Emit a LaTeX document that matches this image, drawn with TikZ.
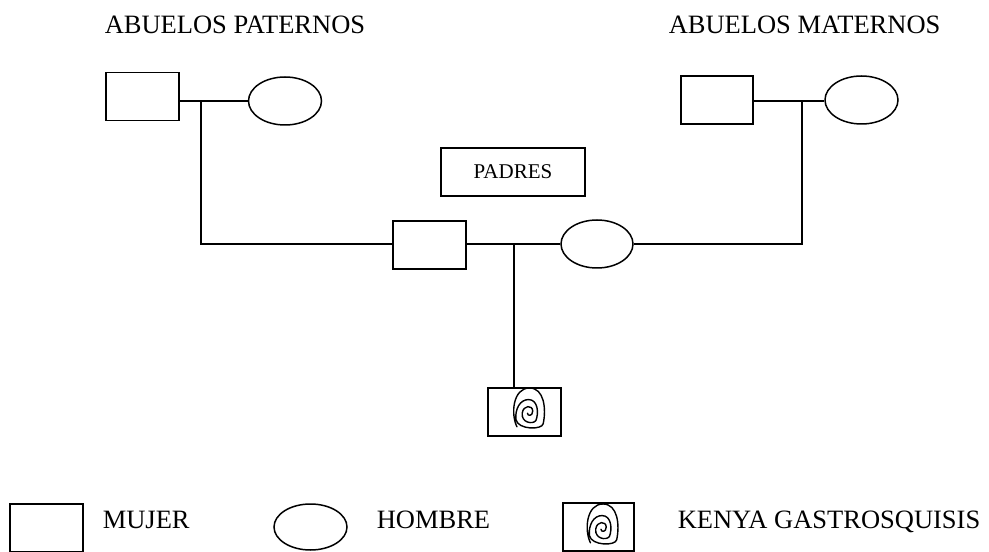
\documentclass[tikz,border=0pt]{standalone}
\usepackage{fontspec}
\setmainfont{Liberation Serif}
\usetikzlibrary{shapes.geometric}
\begin{document}
\begin{tikzpicture}[x=1bp,y=-1bp,line width=1.5bp,
  mujer/.style={draw,rectangle,inner sep=0pt,minimum width=73bp,minimum height=48bp},
  hombre/.style={draw,ellipse,inner sep=0pt,minimum width=73bp,minimum height=48bp},
  label/.style={inner sep=0pt,font=\fontsize{26.5bp}{30bp}\selectfont},
  lbl/.style={inner sep=0pt,font=\fontsize{21bp}{24bp}\selectfont},
  spiral/.pic={
    \draw[line width=1.4bp,line join=round,line cap=round,yscale=-1.05,xscale=1.05]
      (-11,-17) .. controls (-17,-5) and (-15,20) .. (1,20)
      .. controls (15,20) and (17,0) .. (14,-14)
      .. controls (13,-20) and (-10,-20) .. (-12,-10)
      .. controls (-13,0) and (-8,9) .. (0,9)
      .. controls (9,9) and (10,-4) .. (7,-11)
      .. controls (4,-15) and (-7,-13) .. (-6,-4)
      .. controls (-5,4) and (4,4) .. (4,-2)
      .. controls (4,-7) and (-1,-7) .. (-1,-4);
  }]
\useasboundingbox (0,0) rectangle (989,552);

% titles
\node[label,anchor=base west] (tpat) at (104,34) {ABUELOS PATERNOS};
\node[label,anchor=base west] (tmat) at (668,34) {ABUELOS MATERNOS};

% paternal grandparents
\node[mujer] (pm) at (142.5,96.5) {};
\node[hombre] (ph) at (285,101) {};
% maternal grandparents
\node[mujer,minimum width=72bp] (mm) at (717,100) {};
\node[hombre] (mh) at (861.5,100) {};

% parents
\node[draw,lbl,minimum width=144bp,minimum height=48bp] (padres) at (513,172) {PADRES};
\node[mujer] (fm) at (429.5,245) {};
\node[hombre,minimum width=72bp] (fh) at (597,244) {};

% child
\node[mujer] (child) at (524.5,412) {};
\pic at (528.5,409) {spiral};

% junctions
\coordinate (pj) at (201,101);
\coordinate (mj) at (802,101);
\coordinate (cj) at (514,244);

% connectors
\draw (pm.east |- pj) -- (pj) -- (ph.west |- pj);
\draw (mm.east |- mj) -- (mj) -- (mh.west |- mj);
\draw (pj) -- (pj |- cj) -- (fm.west |- cj);
\draw (mj) -- (mj |- cj) -- (fh.east |- cj);
\draw (fm.east |- cj) -- (cj) -- (fh.west |- cj);
\draw (cj) -- (cj |- child.north);

% legend
\node[mujer] (lm) at (46.5,528) {};
\node[label,anchor=base west] (tm) at (102,528) {MUJER};
\node[hombre,minimum height=46bp] (lh) at (310.5,527) {};
\node[label,anchor=base west] (th) at (376,528) {HOMBRE};
\node[mujer,minimum width=71bp] (lk) at (598.5,527) {};
\pic at (602,525) {spiral};
\node[label,anchor=base west] (tk) at (677,528) {KENYA GASTROSQUISIS};
\end{tikzpicture}
\end{document}
